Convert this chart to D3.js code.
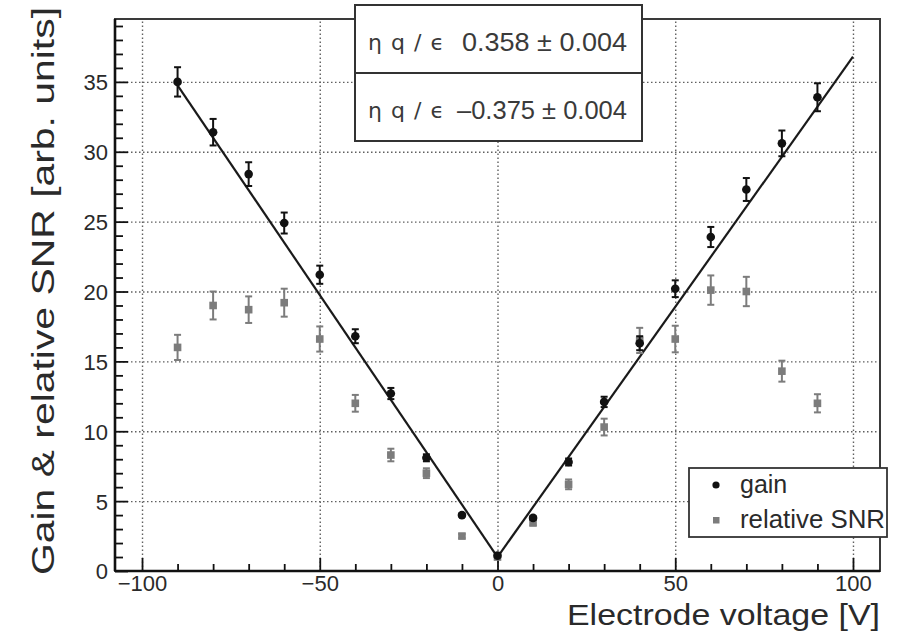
<!DOCTYPE html>
<html>
<head>
<meta charset="utf-8">
<script src="https://cdn.jsdelivr.net/npm/d3@7"></script>
<style>
  html, body { margin: 0; padding: 0; background: #fff; }
  svg { display: block; font-family: "Liberation Sans", Arial, Helvetica, sans-serif; }
</style>
</head>
<body>
<svg id="chart" width="908" height="632"></svg>
<script>
// Electrode voltage settings [V]
const voltages = [-90, -80, -70, -60, -50, -40, -30, -20, -10, 0, 10, 20, 30, 40, 50, 60, 70, 80, 90];
// Measured gain and its uncertainty
const gain    = [35.0, 31.4, 28.4, 24.9, 21.2, 16.8, 12.7, 8.1, 4.0, 1.1, 3.8, 7.8, 12.1, 16.3, 20.2, 23.9, 27.3, 30.6, 33.9];
const gainErr = [1.05, 0.95, 0.85, 0.75, 0.65, 0.5, 0.4, 0.25, 0.12, 0.05, 0.12, 0.25, 0.37, 0.5, 0.6, 0.72, 0.82, 0.92, 1.0];
// Relative signal-to-noise ratio and its uncertainty
const snr     = [16.0, 19.0, 18.7, 19.2, 16.6, 12.0, 8.3, 7.0, 2.5, 1.0, 3.45, 6.2, 10.3, 16.5, 16.6, 20.1, 20.0, 14.3, 12.0];
const snrErr  = [0.9, 1.0, 0.95, 1.0, 0.9, 0.6, 0.45, 0.35, 0.15, 0.05, 0.2, 0.35, 0.6, 0.9, 0.95, 1.05, 1.05, 0.75, 0.65];

// Linear fits on each side of zero: gain = offset + slope * V
const fitSlopes  = [-0.375, 0.358];
const fitErrors  = [0.004, 0.004];
const fitOffset  = 1.0;
const fitRanges  = [[-90, 0], [0, 100]];

// Axis ticks
const xMajorTicks = [-100, -50, 0, 50, 100];
const yMajorTicks = [0, 5, 10, 15, 20, 25, 30, 35];

const svg = d3.select("#chart");
const plotL = 115, plotR = 880, plotT = 19, plotB = 571;

const x = d3.scaleLinear().domain([-107.6, 107.6]).range([plotL, plotR]);
const y = d3.scaleLinear().domain([0, 39.5]).range([plotB, plotT]);

const fmt = d => (d < 0 ? "\u2212" + Math.abs(d) : String(d));

// Grid (dotted)
const grid = svg.append("g").attr("class", "grid");
grid.append("g")
  .attr("transform", `translate(0,${plotB})`)
  .call(d3.axisBottom(x).tickValues(xMajorTicks).tickSize(-(plotB - plotT)).tickFormat(""))
  .call(g => g.select(".domain").remove());
grid.append("g")
  .attr("transform", `translate(${plotL},0)`)
  .call(d3.axisLeft(y).tickValues(yMajorTicks.filter(v => v > 0)).tickSize(-(plotR - plotL)).tickFormat(""))
  .call(g => g.select(".domain").remove());
grid.selectAll("line")
  .attr("stroke", "#606060")
  .attr("stroke-width", 1.4)
  .attr("stroke-dasharray", "1.5,2.5");

// Frame
svg.append("rect")
  .attr("x", plotL).attr("y", plotT)
  .attr("width", plotR - plotL).attr("height", plotB - plotT)
  .attr("fill", "none").attr("stroke", "#3a3a3a").attr("stroke-width", 2);

// Minor ticks
const minorX = d3.range(-100, 101, 10).filter(v => !xMajorTicks.includes(v));
const minorY = d3.range(1, 40, 1).filter(v => v % 5 !== 0);
svg.append("g")
  .attr("transform", `translate(0,${plotB})`)
  .call(d3.axisBottom(x).tickValues(minorX).tickSize(-7).tickFormat(""))
  .call(g => g.select(".domain").remove())
  .selectAll("line").attr("stroke", "#111").attr("stroke-width", 1.8);
svg.append("g")
  .attr("transform", `translate(${plotL},0)`)
  .call(d3.axisLeft(y).tickValues(minorY).tickSize(-8).tickFormat(""))
  .call(g => g.select(".domain").remove())
  .selectAll("line").attr("stroke", "#111").attr("stroke-width", 1.8);

// Major axes with labels
const xAxis = svg.append("g")
  .attr("transform", `translate(0,${plotB})`)
  .call(d3.axisBottom(x).tickValues(xMajorTicks).tickSize(-13).tickPadding(20).tickFormat(fmt));
const yAxis = svg.append("g")
  .attr("transform", `translate(${plotL},0)`)
  .call(d3.axisLeft(y).tickValues(yMajorTicks).tickSize(-13).tickPadding(20).tickFormat(fmt));
[xAxis, yAxis].forEach(a => {
  a.select(".domain").remove();
  a.selectAll("line").attr("stroke", "#111").attr("stroke-width", 1.8);
  a.selectAll("text")
    .attr("fill", "#2a2a2a")
    .style("font-family", "'Liberation Sans', Arial, sans-serif")
    .style("font-size", "22px");
});
xAxis.selectAll("text").attr("dy", "0.72em").attr("y", 4);
yAxis.selectAll("text").attr("x", -7).attr("dy", "0.36em");

// Thick left and bottom axis lines
svg.append("line").attr("x1", plotL).attr("x2", plotR).attr("y1", plotB).attr("y2", plotB)
  .attr("stroke", "#111").attr("stroke-width", 2.6);
svg.append("line").attr("x1", plotL).attr("x2", plotL).attr("y1", plotT).attr("y2", plotB)
  .attr("stroke", "#111").attr("stroke-width", 2.6);

// Axis titles
svg.append("text")
  .attr("x", plotR).attr("y", 625)
  .attr("text-anchor", "end")
  .attr("fill", "#2a2a2a")
  .style("font-size", "30px")
  .attr("textLength", 313).attr("lengthAdjust", "spacingAndGlyphs")
  .text("Electrode voltage [V]");
svg.append("text")
  .attr("transform", "translate(54,7) rotate(-90)")
  .attr("text-anchor", "end")
  .attr("fill", "#2a2a2a")
  .style("font-size", "31px")
  .attr("textLength", 568).attr("lengthAdjust", "spacingAndGlyphs")
  .text("Gain & relative SNR [arb. units]");

// Fit lines
const line = d3.line().x(d => x(d[0])).y(d => y(d[1]));
fitSlopes.forEach((s, i) => {
  const pts = fitRanges[i].map(v => [v, fitOffset + s * v]);
  svg.append("path").attr("d", line(pts))
    .attr("fill", "none").attr("stroke", "#1a1a1a").attr("stroke-width", 2.2);
});

// Error bars helper
function errorBars(vals, errs, color, width) {
  const g = svg.append("g");
  voltages.forEach((v, i) => {
    const cx = x(v), y1 = y(vals[i] - errs[i]), y2 = y(vals[i] + errs[i]);
    g.append("line").attr("x1", cx).attr("x2", cx).attr("y1", y1).attr("y2", y2)
      .attr("stroke", color).attr("stroke-width", width);
    [y1, y2].forEach(yy => g.append("line")
      .attr("x1", cx - 3.5).attr("x2", cx + 3.5).attr("y1", yy).attr("y2", yy)
      .attr("stroke", color).attr("stroke-width", width));
  });
}

// Relative SNR (grey squares)
const snrColor = "#7c7c7c";
errorBars(snr, snrErr, snrColor, 2);
svg.append("g").selectAll("rect").data(voltages).join("rect")
  .attr("x", d => x(d) - 3.8).attr("y", (d, i) => y(snr[i]) - 3.8)
  .attr("width", 7.6).attr("height", 7.6)
  .attr("fill", snrColor);

// Gain (black circles)
errorBars(gain, gainErr, "#111", 2);
svg.append("g").selectAll("circle").data(voltages).join("circle")
  .attr("cx", d => x(d)).attr("cy", (d, i) => y(gain[i]))
  .attr("r", 4.3).attr("fill", "#111");

// Fit parameter boxes
const boxX = 355, boxW = 287, boxH = 68;
const boxY = [5, 73];
[1, 0].forEach((fi, k) => {
  const g = svg.append("g").attr("transform", `translate(${boxX},${boxY[k]})`);
  g.append("rect").attr("width", boxW).attr("height", boxH)
    .attr("fill", "#fff").attr("stroke", "#333").attr("stroke-width", 2);
  g.append("text").attr("x", 13).attr("y", 45)
    .attr("fill", "#3a3a3a")
    .style("font-family", "'DejaVu Sans', sans-serif").style("font-size", "22px")
    .attr("textLength", 76).attr("lengthAdjust", "spacing")
    .text("\u03b7 q / \u03f5");
  const label = `${fitSlopes[fi] < 0 ? "\u2013" : ""}${Math.abs(fitSlopes[fi]).toFixed(3)} \u00b1 ${fitErrors[fi].toFixed(3)}`;
  g.append("text").attr("x", 272).attr("y", 46)
    .attr("text-anchor", "end")
    .attr("fill", "#3a3a3a").style("font-size", "26px")
    .attr("textLength", fitSlopes[fi] < 0 ? 170 : 165).attr("lengthAdjust", "spacingAndGlyphs")
    .text(label);
});

// Legend
const legend = svg.append("g").attr("transform", "translate(689,468)");
legend.append("rect").attr("width", 198).attr("height", 69)
  .attr("fill", "#fff").attr("stroke", "#333").attr("stroke-width", 1.8);
legend.append("circle").attr("cx", 27).attr("cy", 17).attr("r", 3.6).attr("fill", "#111");
legend.append("rect").attr("x", 24).attr("y", 49).attr("width", 6.5).attr("height", 6.5).attr("fill", snrColor);
legend.append("text").attr("x", 51).attr("y", 25)
  .attr("fill", "#2a2a2a").style("font-size", "25px").text("gain");
legend.append("text").attr("x", 51).attr("y", 60)
  .attr("fill", "#2a2a2a").style("font-size", "25px")
  .attr("textLength", 145).attr("lengthAdjust", "spacingAndGlyphs")
  .text("relative SNR");
</script>
</body>
</html>
